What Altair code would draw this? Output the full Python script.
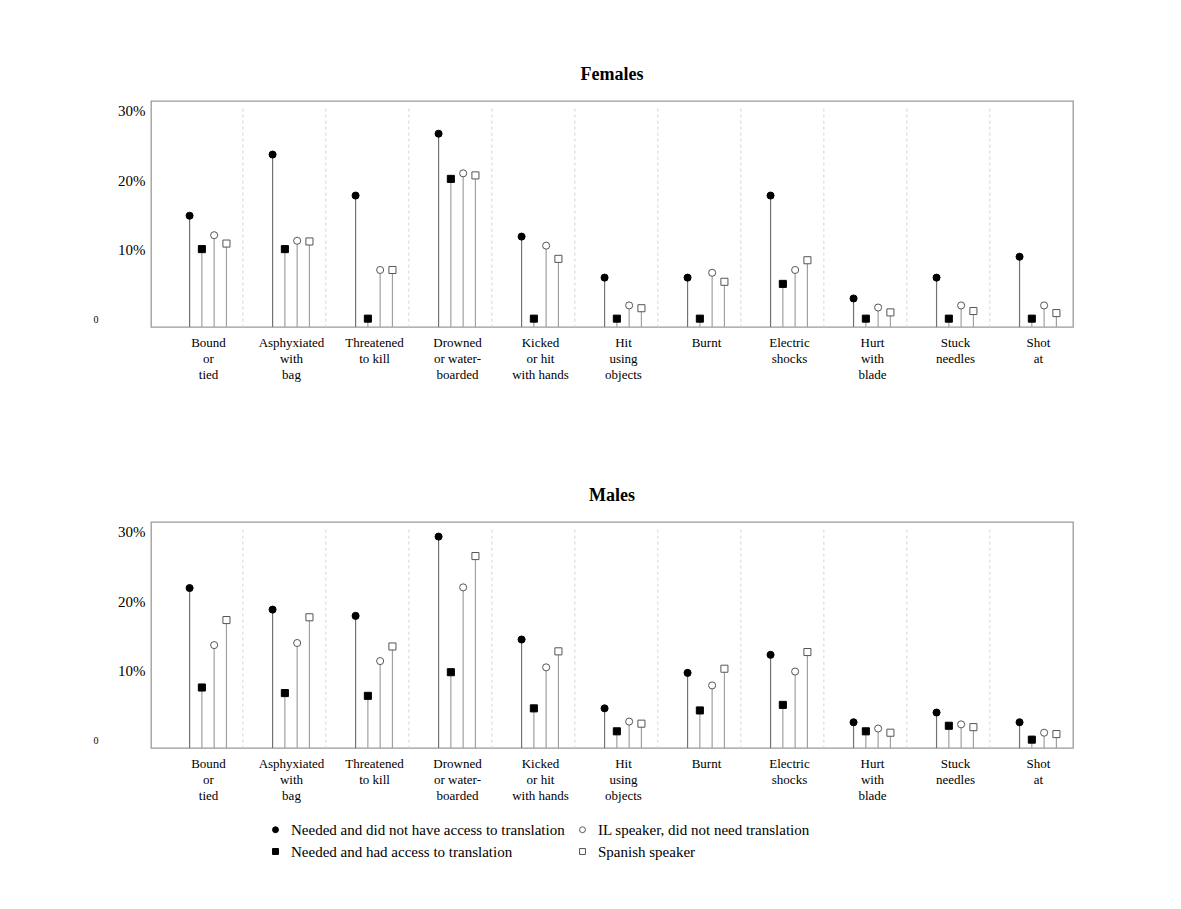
import altair as alt
import pandas as pd

# ---- data ----
categories = [
    "Bound|or|tied", "Asphyxiated|with|bag", "Threatened|to kill",
    "Drowned|or water-|boarded", "Kicked|or hit|with hands", "Hit|using|objects",
    "Burnt", "Electric|shocks", "Hurt|with|blade", "Stuck|needles", "Shot|at",
]
series = [
    "Needed and did not have access to translation",
    "Needed and had access to translation",
    "IL speaker, did not need translation",
    "Spanish speaker",
]

female_no_access = [14.9, 23.7, 17.8, 26.7, 11.9, 6.0, 6.0, 17.8, 3.0, 6.0, 9.0]
female_access    = [10.1, 10.1, 0.1, 20.2, 0.1, 0.1, 0.1, 5.1, 0.1, 0.1, 0.1]
female_il        = [12.1, 11.3, 7.1, 21.0, 10.6, 2.0, 6.7, 7.1, 1.7, 2.0, 2.0]
female_spanish   = [10.9, 11.2, 7.1, 20.7, 8.7, 1.6, 5.4, 8.5, 1.0, 1.2, 0.9]

male_no_access = [21.9, 18.8, 17.9, 29.3, 14.5, 4.6, 9.7, 12.3, 2.6, 4.0, 2.6]
male_access    = [7.6, 6.8, 6.4, 9.8, 4.6, 1.3, 4.3, 5.1, 1.3, 2.1, 0.1]
male_il        = [13.7, 14.0, 11.4, 22.0, 10.5, 2.7, 7.9, 9.9, 1.7, 2.3, 1.1]
male_spanish   = [17.3, 17.7, 13.5, 26.5, 12.8, 2.4, 10.3, 12.7, 1.1, 1.9, 0.9]

y_ticks = [0, 10, 20, 30]

# ---- layout constants ----
Y_MIN, Y_MAX = -1.1, 31.4
X_MIN, X_MAX = -0.687, 10.422
STEP = 0.148
SEP_OFFSET = 0.42
SEP_TOP = 30.3
FONT = "Liberation Serif"

legend_order = series
shape_range = ["circle", "square", "circle", "square"]
fill_range = ["black", "black", "white", "white"]
stroke_range = ["black", "black", "#555555", "#555555"]


def make_df(vals_list):
    rows = []
    for j, (s, vals) in enumerate(zip(series, vals_list)):
        for i, v in enumerate(vals):
            rows.append({"cat": i, "series": s, "sidx": j,
                         "x": i + (j - 1.5) * STEP, "value": v})
    return pd.DataFrame(rows)


female_df = make_df([female_no_access, female_access, female_il, female_spanish])
male_df = make_df([male_no_access, male_access, male_il, male_spanish])
sep_df = pd.DataFrame({"x": [i + SEP_OFFSET for i in range(len(categories) - 1)]})

label_js = "[" + ",".join("'" + c + "'" for c in categories) + "]"

xs = alt.Scale(domain=[X_MIN, X_MAX], nice=False, zero=False)
ys = alt.Scale(domain=[Y_MIN, Y_MAX], nice=False, zero=False)

xaxis = alt.Axis(
    values=list(range(len(categories))),
    labelExpr="split(" + label_js + "[round(datum.value)], '|')",
    ticks=False, grid=False, domain=False, title=None,
    labelFont=FONT, labelFontSize=13, labelLineHeight=16, labelColor="black",
    labelPadding=9, labelAngle=0, labelAlign="center", labelBaseline="top",
    labelFlush=False, labelOverlap=False,
)
yaxis = alt.Axis(
    values=y_ticks,
    labelExpr="datum.value == 0 ? '0' : datum.value + '%'",
    ticks=False, grid=False, domain=False, title=None,
    labelFont=FONT, labelColor="black",
    labelFontSize={"condition": {"test": "datum.value == 0", "value": 10}, "value": 15},
    labelPadding={"condition": {"test": "datum.value == 0", "value": 53}, "value": 6},
)

legend = alt.Legend(
    title=None, orient="none", legendX=117, legendY=721, columns=2,
    labelFont=FONT, labelFontSize=15, labelColor="black", labelLimit=0,
    symbolSize=35, symbolStrokeWidth=1, rowPadding=6, columnPadding=10,
    labelOffset=8,
)


def panel(df, title):
    seps = alt.Chart(sep_df).mark_rule(color="#d4d4d4", strokeDash=[3, 3], strokeWidth=1).encode(
        x=alt.X("x:Q", scale=xs, axis=xaxis),
        y=alt.Y(datum=SEP_TOP, scale=ys, axis=yaxis),
        y2=alt.datum(Y_MIN),
    )
    stems = alt.Chart(df).mark_rule(strokeWidth=1.2).encode(
        x=alt.X("x:Q", scale=xs, axis=xaxis),
        y=alt.Y("value:Q", scale=ys, axis=yaxis),
        y2=alt.datum(Y_MIN),
        color=alt.condition("datum.sidx == 0", alt.value("#727272"), alt.value("#a0a0a0")),
    )
    pts = alt.Chart(df).mark_point(opacity=1, size=50, strokeWidth=1).encode(
        x=alt.X("x:Q", scale=xs, axis=xaxis),
        y=alt.Y("value:Q", scale=ys, axis=yaxis),
        shape=alt.Shape("series:N", scale=alt.Scale(domain=legend_order, range=shape_range), legend=legend),
        fill=alt.Fill("series:N", scale=alt.Scale(domain=legend_order, range=fill_range), legend=legend),
        stroke=alt.Stroke("series:N", scale=alt.Scale(domain=legend_order, range=stroke_range), legend=legend),
    )
    return alt.layer(seps, stems, pts).properties(
        width=922, height=226,
        title=alt.TitleParams(title, font=FONT, fontSize=18, fontWeight="bold",
                              anchor="middle", offset=17, color="black"),
    )


chart = alt.vconcat(
    panel(female_df, "Females"), panel(male_df, "Males"), spacing=104
).resolve_scale(
    shape="shared", fill="shared", stroke="shared"
).configure_view(
    stroke="#9a9a9a", strokeWidth=1.3
).properties(
    padding={"left": 84, "top": 57, "right": 5, "bottom": 5},
    background="white",
)

chart.save("out.html", embed_options={"renderer": "svg", "actions": False})
